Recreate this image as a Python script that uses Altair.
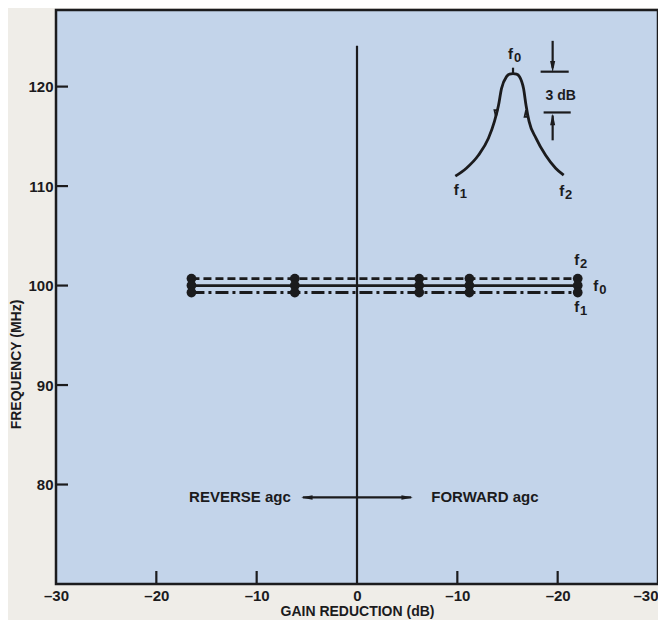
import altair as alt
import pandas as pd

FONT = "Liberation Sans"
INK = "#1b1b1d"
PLOT_FILL = "#c3d4ea"
PAGE_BG = "#efede8"
W, H = 602, 574

# ---- axis ticks ----
x_ticks = [-30, -20, -10, 0, 10, 20, 30]
x_tick_labels = ["\u201330", "\u201320", "\u201310", "0", "\u201310", "\u201320", "\u201330"]
x_inner_ticks = [-20, -10, 10, 20]
y_ticks = [80, 90, 100, 110, 120]

# ---- measured data (gain reduction position, frequency MHz) ----
gain_x = [-16.5, -6.2, 6.2, 11.2, 22.0]
f2_mhz = [100.7, 100.7, 100.7, 100.7, 100.7]
f0_mhz = [100.0, 100.0, 100.0, 100.0, 100.0]
f1_mhz = [99.3, 99.3, 99.3, 99.3, 99.3]

# ---- inset resonance curve (sketch) ----
curve_x = [9.8, 10.9, 12.1, 13.1, 13.7, 14.1, 14.4, 14.9, 15.2, 15.55, 15.9, 16.2, 16.6, 16.85, 17.15, 17.85, 18.8, 19.8, 20.6]
curve_y = [111.0, 111.8, 113.1, 114.8, 116.5, 118.1, 119.8, 121.0, 121.25, 121.3, 121.25, 121.0, 119.8, 118.1, 116.5, 114.8, 113.1, 111.8, 111.1]

# ---- "f" labels with subscripts ----
f_sub = ["0", "1", "2", "2", "0", "1"]
f_x = [15.3, 9.9, 20.4, 21.9, 23.8, 21.9]
f_y = [123.3, 109.6, 109.5, 102.6, 100.0, 97.8]

other_text = ["3 dB"]
other_x = [20.3]
other_y = [119.1]

agc_text = ["REVERSE agc", "FORWARD agc"]
agc_x = [-6.6, 7.4]
agc_y = [78.7, 78.7]
agc_align = ["right", "left"]

# ---- line segments (x, y, x2, y2) ----
seg_x = [0.0, 19.5, 18.3, 18.6, 19.5, -5.4, 15.55]
seg_y = [70.0, 124.6, 121.5, 117.4, 117.1, 78.7, 121.3]
seg_x2 = [0.0, 19.5, 21.1, 21.3, 19.5, 5.4, 15.55]
seg_y2 = [124.1, 121.9, 121.5, 117.4, 114.6, 78.7, 121.9]

# ---- arrowheads ----
head_x = [19.5, 19.5, -5.0, 5.0]
head_y = [122.0, 116.7, 78.7, 78.7]
head_dir = ["down", "up", "left", "right"]
chev_x = [13.85, 16.85]
chev_y = [117.3, 117.3]
chev_dir = ["down", "up"]

label_expr = " : ".join(
    f"datum.value == {v} ? '{l}'" for v, l in zip(x_ticks, x_tick_labels)
) + " : ''"

xs = alt.Scale(domain=[-30, 30], nice=False, zero=False)
ys = alt.Scale(domain=[70, 127.7], nice=False, zero=False)

x_axis = alt.Axis(values=x_ticks, labelExpr=label_expr, ticks=False, domain=False, grid=False,
                  labelFontSize=15, labelFont=FONT, labelFontWeight="bold", labelColor=INK,
                  labelPadding=4, labelFlush=False,
                  labelAlign={"condition": {"test": f"datum.value == {x_ticks[-1]}", "value": "right"},
                              "value": "center"},
                  title="GAIN REDUCTION  (dB)", titleFont=FONT, titleFontSize=14,
                  titleFontWeight="bold", titleColor=INK, titlePadding=1)
y_axis = alt.Axis(values=y_ticks, ticks=False, domain=False, grid=False,
                  labelFontSize=15, labelFont=FONT, labelFontWeight="bold", labelColor=INK, labelPadding=3,
                  title="FREQUENCY  (MHz)", titleFont=FONT, titleFontSize=14,
                  titleFontWeight="bold", titleColor=INK, titlePadding=4, titleY=354)


def X(f):
    return alt.X(f, type="quantitative", scale=xs, axis=x_axis)


def Y(f):
    return alt.Y(f, type="quantitative", scale=ys, axis=y_axis)


series = pd.DataFrame({
    "x": gain_x * 3,
    "y": f2_mhz + f0_mhz + f1_mhz,
    "s": ["f2"] * 5 + ["f0"] * 5 + ["f1"] * 5,
})

lines = alt.Chart(series).mark_line(color=INK, strokeWidth=2.8).encode(
    x=X("x"), y=Y("y"),
    detail="s:N",
    strokeDash=alt.StrokeDash("s:N", scale=alt.Scale(domain=["f2", "f0", "f1"],
                                                      range=[[8, 4], [1, 0], [13, 4, 3, 4]]), legend=None),
)
points = alt.Chart(series).mark_point(filled=True, color=INK, size=95, opacity=1).encode(
    x=X("x"), y=Y("y"))

curve = alt.Chart(pd.DataFrame({"x": curve_x, "y": curve_y, "o": list(range(len(curve_x)))})).mark_line(
    color=INK, strokeWidth=2.8, interpolate="monotone").encode(x=X("x"), y=Y("y"), order="o:Q")

segs = alt.Chart(pd.DataFrame({"x": seg_x, "y": seg_y, "x2": seg_x2, "y2": seg_y2})).mark_rule(
    color=INK, strokeWidth=2.2).encode(x=X("x"), y=Y("y"), x2="x2", y2="y2")

x_ticks_df = pd.DataFrame({"x": x_inner_ticks})
xtick_marks = alt.Chart(x_ticks_df).mark_rule(color=INK, strokeWidth=2.2).encode(
    x=X("x"), y=alt.value(H), y2=alt.value(H - 13))
y_ticks_df = pd.DataFrame({"y": y_ticks})
ytick_marks = alt.Chart(y_ticks_df).mark_rule(color=INK, strokeWidth=2.2).encode(
    y=Y("y"), x=alt.value(0), x2=alt.value(12))

paths = {
    "down": "M 0 1 L -0.45 -1 L 0.45 -1 Z",
    "up": "M 0 -1 L -0.45 1 L 0.45 1 Z",
    "left": "M -1 0 L 1 -0.4 L 1 0.4 Z",
    "right": "M 1 0 L -1 -0.4 L -1 0.4 Z",
}
heads = alt.Chart(pd.DataFrame({"x": head_x, "y": head_y, "d": head_dir})).mark_point(
    filled=True, color=INK, size=130, opacity=1).encode(
    x=X("x"), y=Y("y"),
    shape=alt.Shape("d:N", scale=alt.Scale(domain=list(paths.keys()), range=list(paths.values())), legend=None))

chev_paths = {"down": "M -0.7 -0.7 L 0 0.7 L 0.7 -0.7", "up": "M -0.7 0.7 L 0 -0.7 L 0.7 0.7"}
chevs = alt.Chart(pd.DataFrame({"x": chev_x, "y": chev_y, "d": chev_dir})).mark_point(
    filled=False, color=INK, size=45, strokeWidth=1.8, opacity=1).encode(
    x=X("x"), y=Y("y"),
    shape=alt.Shape("d:N", scale=alt.Scale(domain=list(chev_paths.keys()), range=list(chev_paths.values())), legend=None))

fdf = pd.DataFrame({"x": f_x, "y": f_y, "f": ["f"] * len(f_x), "sub": f_sub})
f_main = alt.Chart(fdf).mark_text(
    font=FONT, fontSize=15, fontWeight="bold", color=INK, baseline="middle", align="center").encode(
    x=X("x"), y=Y("y"), text="f:N")
f_subs = alt.Chart(fdf).mark_text(
    font=FONT, fontSize=13, fontWeight="bold", color=INK, baseline="middle", align="center", dx=7, dy=4).encode(
    x=X("x"), y=Y("y"), text="sub:N")

others = alt.Chart(pd.DataFrame({"x": other_x, "y": other_y, "t": other_text})).mark_text(
    font=FONT, fontSize=14, fontWeight="bold", color=INK, baseline="middle", align="center").encode(
    x=X("x"), y=Y("y"), text="t:N")

agc_df = pd.DataFrame({"x": agc_x, "y": agc_y, "t": agc_text, "a": agc_align})
agc_r = alt.Chart(agc_df[agc_df.a == "right"]).mark_text(
    font=FONT, fontSize=15, fontWeight="bold", color=INK, baseline="middle", align="right").encode(
    x=X("x"), y=Y("y"), text="t:N")
agc_l = alt.Chart(agc_df[agc_df.a == "left"]).mark_text(
    font=FONT, fontSize=15, fontWeight="bold", color=INK, baseline="middle", align="left").encode(
    x=X("x"), y=Y("y"), text="t:N")

chart = alt.layer(
    xtick_marks, ytick_marks, segs, curve, lines, points, heads, chevs, f_main, f_subs, others, agc_r, agc_l
).properties(
    width=W, height=H,
    autosize=alt.AutoSizeParams(type="none"),
    padding={"left": 48, "top": 2, "right": 0, "bottom": 612 - 2 - H},
    background=PAGE_BG,
).configure_view(fill=PLOT_FILL, stroke=INK, strokeWidth=2.5)

chart.save("out.html", embed_options={"renderer": "svg", "actions": False})
